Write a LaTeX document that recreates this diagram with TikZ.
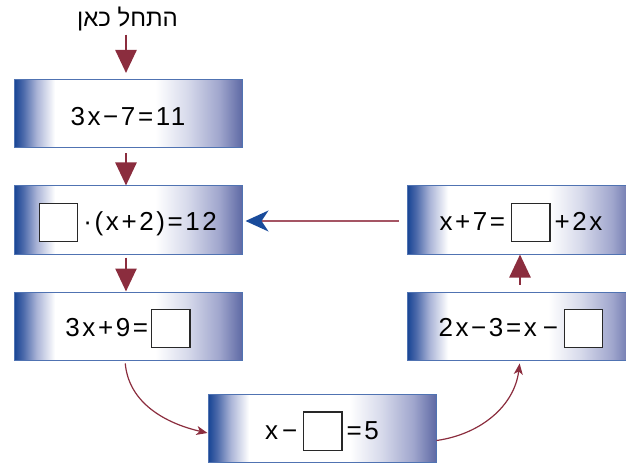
\documentclass[tikz,border=0pt]{standalone}
\usepackage{fontspec}
\setmainfont{Liberation Sans}
\newfontfamily\hebfont[Script=Hebrew]{Liberation Sans}
\newfontfamily\eqfont[LetterSpace=10]{Liberation Sans}
\TeXXeTstate=1
\usetikzlibrary{arrows.meta}
\definecolor{redc}{RGB}{139,45,62}
\definecolor{pinkc}{RGB}{165,85,100}
\definecolor{bluetip}{RGB}{25,75,155}
\definecolor{bordc}{RGB}{80,115,178}
\definecolor{sqc}{RGB}{40,40,40}
\definecolor{bdark}{RGB}{22,68,148}
\definecolor{bmid1}{RGB}{75,105,170}
\definecolor{blt1}{RGB}{170,180,215}
\definecolor{blt2}{RGB}{215,218,235}
\definecolor{bmid2}{RGB}{160,166,205}
\definecolor{bright}{RGB}{95,106,165}
\pgfdeclarehorizontalshading{boxshade}{100bp}{color(0bp)=(bdark); color(25bp)=(bdark); color(27bp)=(bmid1); color(30bp)=(blt1); color(34bp)=(white); color(56bp)=(white); color(63bp)=(blt2); color(70bp)=(bmid2); color(75bp)=(bright); color(100bp)=(bright)}
\setlength{\fboxsep}{0pt}
\setlength{\fboxrule}{1.2pt}
\newcommand\sqbox{\raisebox{-10.4pt}{\fcolorbox{sqc}{white}{\rule{0pt}{37pt}\rule{37pt}{0pt}}}}
\newcommand\eqstrut{\rule[-10.4pt]{0pt}{43.4pt}}
\tikzset{
  eqbox/.style={shading=boxshade, draw=bordc, line width=1pt, minimum width=228pt,
    minimum height=68pt, inner sep=0pt, font=\eqfont\fontsize{26}{31}\selectfont},
  bigarrow/.style={draw=redc, line width=2.6pt, -{Triangle[length=23pt,width=21pt]}},
  curvearrow/.style={draw=redc, line width=1.2pt, -{Stealth[length=11pt,width=9pt,inset=3pt]}},
  backarrow/.style={draw=pinkc, line width=1.3pt, -{Stealth[length=23pt,width=21pt,inset=7pt,color=bluetip]}}
}
\begin{document}
\begin{tikzpicture}[x=1pt,y=1pt]
\useasboundingbox (0,0) rectangle (626,-465);
\clip (0,0) rectangle (626,-465);
\node[inner sep=0pt, anchor=base, font=\hebfont\fontsize{24}{28}\selectfont] (heb) at (127.5,-27) {\beginR התחל כאן\endR};
\node[eqbox] (b1) at (128,-114) {\eqstrut 3x−7=11};
\node[eqbox] (b2) at (128,-220) {\eqstrut\sqbox\hspace{5pt}·(x+2)=12};
\node[eqbox] (b3) at (128,-326) {\eqstrut 3x+9=\hspace{3pt}\sqbox};
\node[eqbox] (b4) at (322,-428.5) {\eqstrut x\hspace{4pt}−\hspace{6pt}\sqbox\hspace{4pt}=5};
\node[eqbox] (b5) at (521,-326) {\eqstrut 2x−3=x\hspace{6pt}−\hspace{6pt}\sqbox};
\node[eqbox] (b6) at (521,-220) {\eqstrut x+7=\hspace{6pt}\sqbox\hspace{4pt}+2x};
\coordinate (tip0) at (126,-73);
\draw[bigarrow, shorten <=3pt] ([xshift=-1.5pt]heb.south) -- (tip0);
\draw[bigarrow, shorten <=5pt] ([xshift=-2pt]b1.south) -- ([xshift=-2pt]b2.north);
\draw[bigarrow, shorten <=3pt] ([xshift=-2pt]b2.south) -- ([xshift=-2pt]b3.north);
\draw[bigarrow, shorten <=7pt] ([xshift=-1pt]b5.north) -- ([xshift=-1pt]b6.south);
\draw[backarrow, shorten <=8pt, shorten >=3pt] ([yshift=-1pt]b6.west) -- ([yshift=-1pt]b2.east);
\draw[curvearrow, shorten <=3pt] ([xshift=-3pt]b3.south) to[out=-85, in=167] ([yshift=-4.5pt]b4.west);
\draw[curvearrow, shorten >=3pt] ([yshift=-12pt]b4.east) to[out=8, in=-97] ([xshift=-1pt]b5.south);
\end{tikzpicture}
\end{document}
